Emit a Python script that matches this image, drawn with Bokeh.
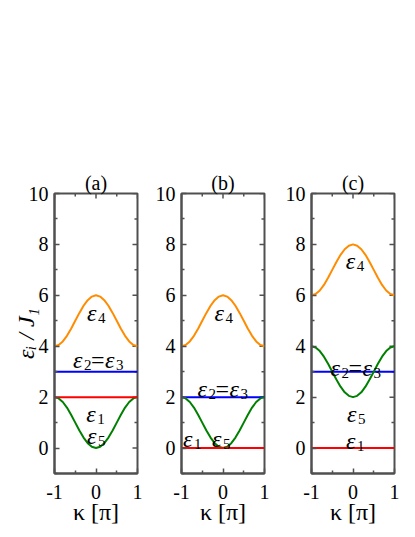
import math
from bokeh.plotting import figure
from bokeh.layouts import row
from bokeh.models import LinearAxis, FixedTicker, Title, CustomJSTickFormatter
from bokeh.core.properties import value
from bokeh.embed import file_html
from bokeh.resources import INLINE

# ---------------- data ----------------
kappa = [-1.0, -0.9, -0.8, -0.7, -0.6, -0.5, -0.4, -0.3, -0.2, -0.1, 0.0,
         0.1, 0.2, 0.3, 0.4, 0.5, 0.6, 0.7, 0.8, 0.9, 1.0]

# panel (a)
a_eps4 = [4.0, 4.05, 4.19, 4.41, 4.69, 5.0, 5.31, 5.59, 5.81, 5.95, 6.0,
          5.95, 5.81, 5.59, 5.31, 5.0, 4.69, 4.41, 4.19, 4.05, 4.0]
a_eps5 = [2.0, 1.95, 1.81, 1.59, 1.31, 1.0, 0.69, 0.41, 0.19, 0.05, 0.0,
          0.05, 0.19, 0.41, 0.69, 1.0, 1.31, 1.59, 1.81, 1.95, 2.0]
a_eps23 = 3.0
a_eps1 = 2.0

# panel (b)
b_eps4 = [4.0, 4.05, 4.19, 4.41, 4.69, 5.0, 5.31, 5.59, 5.81, 5.95, 6.0,
          5.95, 5.81, 5.59, 5.31, 5.0, 4.69, 4.41, 4.19, 4.05, 4.0]
b_eps5 = [2.0, 1.95, 1.81, 1.59, 1.31, 1.0, 0.69, 0.41, 0.19, 0.05, 0.0,
          0.05, 0.19, 0.41, 0.69, 1.0, 1.31, 1.59, 1.81, 1.95, 2.0]
b_eps23 = 2.0
b_eps1 = 0.0

# panel (c)
c_eps4 = [6.0, 6.05, 6.19, 6.41, 6.69, 7.0, 7.31, 7.59, 7.81, 7.95, 8.0,
          7.95, 7.81, 7.59, 7.31, 7.0, 6.69, 6.41, 6.19, 6.05, 6.0]
c_eps5 = [4.0, 3.95, 3.81, 3.59, 3.31, 3.0, 2.69, 2.41, 2.19, 2.05, 2.0,
          2.05, 2.19, 2.41, 2.69, 3.0, 3.31, 3.59, 3.81, 3.95, 4.0]
c_eps23 = 3.0
c_eps1 = 0.0

panel_titles = ["(a)", "(b)", "(c)"]

# curve labels: anchor (kappa, baseline of epsilon) for eps4, eps2=eps3, eps1, eps5
a_label_x = [0.0, 0.0, -0.02, 0.0]
a_label_y = [5.31, 3.46, 1.34, 0.47]
b_label_x = [0.01, -0.06, -0.75, -0.05]
b_label_y = [5.31, 2.32, 0.35, 0.35]
c_label_x = [0.04, 0.01, 0.05, 0.07]
c_label_y = [7.36, 3.15, 0.28, 1.34]

x_major = [-1, 0, 1]
x_minor = [-0.5, 0.5]
y_major = [0, 2, 4, 6, 8, 10]
y_minor = [-1, 1, 3, 5, 7, 9]
x_top = 10
y_right = 1

x_label = "κ [π]"
y_label = "εᵢ / J₁"

# ---------------- styling ----------------
FONT = "Liberation Serif"
FRAME = "#505050"
ORANGE = "#ff8c00"
BLUE = "#0000ff"
RED = "#ff0000"
GREEN = "#008000"
EPS_SIZE = "24px"
SUB_SIZE = "15px"


def style_axis(ax, xaxis=True):
    ax.ticker = FixedTicker(ticks=x_major if xaxis else y_major,
                            minor_ticks=x_minor if xaxis else y_minor)
    ax.formatter = CustomJSTickFormatter(code="return tick.toFixed(0);")
    ax.axis_line_color = FRAME
    ax.axis_line_width = 2
    ax.major_tick_line_color = FRAME
    ax.minor_tick_line_color = FRAME
    ax.major_tick_line_width = 1.5
    ax.minor_tick_line_width = 1.5
    ax.major_tick_in = 5
    ax.major_tick_out = 0
    ax.minor_tick_in = 3
    ax.minor_tick_out = 0
    ax.major_label_text_font = FONT
    ax.major_label_text_color = "black"
    ax.major_label_text_font_size = "20px"
    ax.major_label_standoff = 11 if xaxis else 6
    ax.axis_label_text_color = "black"


def add_label(p, x, y, pieces):
    # pieces: list of (text, x_offset, y_offset, size, style)
    for txt, dx, dy, size, style in pieces:
        p.text(x=[x], y=[y], text=[txt], x_offset=dx, y_offset=dy,
               text_font=value(FONT), text_font_size=size, text_font_style=style,
               text_align="left", text_baseline="alphabetic", text_color="black")


def eps_pieces(n):
    return [("ε", -9, 0, EPS_SIZE, "italic"), (n, 2, 5, SUB_SIZE, "normal")]


def eps23_pieces():
    return [("ε", -23, 0, EPS_SIZE, "italic"), ("2", -12, 5, SUB_SIZE, "normal"),
            ("=", -5, 0, EPS_SIZE, "normal"),
            ("ε", 9, 0, EPS_SIZE, "italic"), ("3", 20, 5, SUB_SIZE, "normal")]


def make_panel(title, eps4, eps5, eps23, eps1, lx, ly, left_border, with_ylabel):
    p = figure(frame_width=83, frame_height=280, x_range=(-1, 1), y_range=(-1, 10),
               output_backend="svg", toolbar_location=None,
               min_border_left=left_border, min_border_right=8,
               min_border_top=193, min_border_bottom=49,
               x_axis_location=None, y_axis_location=None)
    p.grid.visible = False
    p.outline_line_color = FRAME
    p.outline_line_width = 2
    p.background_fill_color = "white"
    p.border_fill_color = "white"

    bottom = LinearAxis(axis_label=x_label)
    style_axis(bottom, xaxis=True)
    bottom.axis_label_text_font = FONT
    bottom.axis_label_text_font_size = "24px"
    bottom.axis_label_text_font_style = "normal"
    bottom.axis_label_standoff = -3
    p.add_layout(bottom, "below")

    left = LinearAxis()
    style_axis(left, xaxis=False)
    if with_ylabel:
        left.axis_label = y_label
        left.axis_label_text_font = FONT
        left.axis_label_text_font_size = "24px"
        left.axis_label_text_font_style = "italic"
        left.axis_label_standoff = -13
    p.add_layout(left, "left")

    t = Title(text=title, align="center", text_font=FONT, text_font_size="20px",
              text_font_style="normal", text_color="black", standoff=0)
    p.add_layout(t, "above")

    # mirrored inward ticks on top and right edges (clipped dashes)
    p.scatter(x_major, [x_top] * len(x_major), marker="dash", size=10, angle=math.pi / 2,
              line_color=FRAME, line_width=1.5)
    p.scatter(x_minor, [x_top] * len(x_minor), marker="dash", size=6, angle=math.pi / 2,
              line_color=FRAME, line_width=1.5)
    p.scatter([y_right] * len(y_major), y_major, marker="dash", size=10,
              line_color=FRAME, line_width=1.5)
    p.scatter([y_right] * len(y_minor), y_minor, marker="dash", size=6,
              line_color=FRAME, line_width=1.5)

    n = len(kappa)
    p.line(kappa, eps4, line_color=ORANGE, line_width=2)
    p.line(kappa, [eps23] * n, line_color=BLUE, line_width=2)
    p.line(kappa, eps5, line_color=GREEN, line_width=2)
    p.line(kappa, [eps1] * n, line_color=RED, line_width=2)

    add_label(p, lx[0], ly[0], eps_pieces("4"))
    add_label(p, lx[1], ly[1], eps23_pieces())
    add_label(p, lx[2], ly[2], eps_pieces("1"))
    add_label(p, lx[3], ly[3], eps_pieces("5"))
    return p


pa = make_panel(panel_titles[0], a_eps4, a_eps5, a_eps23, a_eps1,
                a_label_x, a_label_y, 54, True)
pb = make_panel(panel_titles[1], b_eps4, b_eps5, b_eps23, b_eps1,
                b_label_x, b_label_y, 36, False)
pc = make_panel(panel_titles[2], c_eps4, c_eps5, c_eps23, c_eps1,
                c_label_x, c_label_y, 39, False)

layout = row(pa, pb, pc)

open("out.html", "w").write(file_html(layout, INLINE))
